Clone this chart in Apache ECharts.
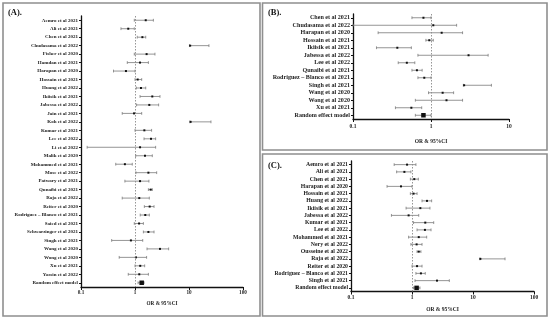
<!DOCTYPE html>
<html>
<head>
<meta charset="utf-8">
<script src="https://cdn.jsdelivr.net/npm/echarts@6/dist/echarts.min.js"></script>
<style>html,body{margin:0;padding:0;background:#fff}#c{width:550px;height:320px}</style>
</head>
<body>
<div id="c"></div>
<script>
// ---- Panel A ----
var namesA = ["Aemro et al 2021","Ali et al 2021","Chen et al 2021","Chudasama et al 2022","Fisher et al 2020","Hamdan et al 2021","Harapan et al 2020","Hossain et al 2021","Huang et al 2022","Ikiisik et al 2021","Jabessa et al 2022","Jain et al 2021","Koh et al 2022","Kumar et al 2021","Lee et al 2022","Li et al 2022","Malik et al 2020","Mohammed et al 2021","Mose et al 2022","Patwary et al 2021","Qunaibi et al 2021","Raja et al 2022","Reiter et al 2020","Rodriguez – Blanco et al 2021","Saied et al 2021","Schwarzinger et al 2021","Singh et al 2021","Wang et al 2020","Wong et al 2020","Xu et al 2021","Yassin et al 2022","Random effect model"];
var orA = [1.58,0.75,1.37,10.5,1.64,1.24,0.68,1.12,1.29,2.09,1.84,0.96,10.7,1.49,1.98,1.24,1.53,0.65,1.77,1.24,1.95,1.20,1.87,1.55,1.19,1.77,0.84,2.9,1.04,1.25,1.20,1.33];
var loA = [0.97,0.55,1.10,10.2,0.97,0.72,0.40,1.0,1.06,1.24,1.07,0.58,10.4,1.0,1.47,0.13,1.03,0.44,1.04,0.65,1.77,0.58,1.49,1.25,0.97,1.43,0.37,1.67,0.51,1.0,0.75,1.14];
var hiA = [2.19,0.97,1.58,23.4,2.34,1.77,1.0,1.33,1.58,2.9,2.74,1.33,25.5,2.03,2.41,2.41,2.09,0.89,2.52,1.81,2.09,1.84,2.25,1.84,1.43,2.25,1.39,4.2,1.64,1.51,1.77,1.47];
// ---- Panel B ----
var namesB = ["Chen et al 2021","Chudasama et al 2022","Harapan et al 2020","Hossain et al 2021","Ikiisik et al 2021","Jabessa et al 2022","Lee et al 2022","Qunaibi et al 2021","Rodriguez – Blanco et al 2021","Singh et al 2021","Wang et al 2020","Wong et al 2020","Xu et al 2021","Random effect model"];
var orB = [0.80,1.07,1.37,0.95,0.37,3.03,0.49,0.66,0.82,2.66,1.41,1.58,0.56,0.80];
var loB = [0.57,0.10,0.21,0.86,0.20,0.68,0.38,0.57,0.68,2.60,0.93,0.63,0.35,0.63];
var hiB = [1.0,2.13,2.54,1.07,0.56,5.4,0.62,0.77,1.0,5.95,1.95,2.54,0.76,1.0];
// ---- Panel C ----
var namesC = ["Aemro et al 2021","Ali et al 2021","Chen et al 2021","Harapan et al 2020","Hossain et al 2021","Huang et al 2022","Ikiisik et al 2021","Jabessa et al 2022","Kumar et al 2021","Lee et al 2022","Mohammed et al 2021","Nery et al 2022","Ousseine et al 2022","Raja et al 2022","Reiter et al 2020","Rodriguez – Blanco et al 2021","Singh et al 2021","Random effect model"];
var orC = [0.83,0.75,1.09,0.66,1.06,1.76,1.37,0.88,1.65,1.63,1.29,1.19,1.29,13.2,1.21,1.40,2.57,1.19];
var loC = [0.51,0.56,0.94,0.39,0.94,1.46,0.80,0.46,1.06,1.21,0.88,0.96,1.21,13.0,1.0,1.16,1.12,1.06];
var hiC = [1.16,0.96,1.27,1.0,1.21,2.10,1.97,1.29,2.27,2.05,1.74,1.46,1.40,33.5,1.46,1.65,4.09,1.35];

var xMaxA = 100, xMaxB = 10, xMaxC = 100;
var axisTitle = "OR & 95%CI";
var FONT = "Liberation Serif";

function rows(or, lo, hi){ return or.map(function(v,i){ return [i, v, lo[i], hi[i]]; }); }

function makeRender(lastIdx){
  return function(params, api){
    var i = api.value(0);
    var p = api.coord([api.value(1), i]);
    var l = api.coord([api.value(2), i]);
    var h = api.coord([api.value(3), i]);
    var isRE = (i === lastIdx);
    var s = isRE ? 4.5 : 2;
    var cap = 1.4;
    var ls = {stroke:'#7a7a7a', lineWidth:0.8};
    return {type:'group', children:[
      {type:'line', shape:{x1:l[0],y1:p[1],x2:h[0],y2:p[1]}, style:ls},
      {type:'line', shape:{x1:l[0],y1:p[1]-cap,x2:l[0],y2:p[1]+cap}, style:ls},
      {type:'line', shape:{x1:h[0],y1:p[1]-cap,x2:h[0],y2:p[1]+cap}, style:ls},
      {type:'rect', shape:{x:p[0]-s/2, y:p[1]-s/2, width:s, height:s}, style:{fill:'#111'}}
    ]};
  };
}

function xAxisDef(idx, max, fs, gap, margin){
  return {
    type:'log', logBase:10, min:0.1, max:max, gridIndex:idx,
    axisLine:{show:true, lineStyle:{color:'#111', width:1.3}},
    axisTick:{show:true, inside:false, length:3, lineStyle:{color:'#111', width:1}},
    minorTick:{show:false},
    splitLine:{show:false},
    axisLabel:{fontFamily:FONT, fontWeight:'bold', fontSize:fs, color:'#222', margin:margin,
      formatter:function(v){ return String(+(+v).toPrecision(3)); }},
    name:axisTitle, nameLocation:'middle', nameGap:gap,
    nameTextStyle:{fontFamily:FONT, fontWeight:'bold', fontSize:fs, color:'#222'}
  };
}
function yAxisDef(idx, names, fs){
  return {
    type:'category', data:names, inverse:true, gridIndex:idx,
    axisLine:{show:true, lineStyle:{color:'#111', width:1.3}},
    axisTick:{show:true, length:2, alignWithLabel:true, lineStyle:{color:'#111', width:1}},
    splitLine:{show:false},
    axisLabel:{fontFamily:FONT, fontWeight:'bold', fontSize:fs, color:'#222', margin:3, interval:0}
  };
}
function seriesDef(idx, or, lo, hi){
  return {
    type:'custom', xAxisIndex:idx, yAxisIndex:idx,
    renderItem:makeRender(or.length-1),
    dimensions:['row','or','lo','hi'],
    encode:{x:[1,2,3], y:0},
    data:rows(or, lo, hi),
    silent:true, clip:false,
    markLine:{silent:true, symbol:'none', animation:false,
      lineStyle:{type:[1.5,1.5], color:'#8a8a8a', width:0.9},
      label:{show:false}, data:[{xAxis:1}]}
  };
}

var chart = echarts.init(document.getElementById('c'), null, {renderer:'canvas'});
chart.setOption({
  animation:false,
  backgroundColor:'#fff',
  grid:[
    {left:81, right:307, top:16, bottom:33},
    {left:353, right:41, top:14, bottom:201},
    {left:351, right:16, top:161, bottom:28.5}
  ],
  xAxis:[ xAxisDef(0, xMaxA, 5.2, 14, 3), xAxisDef(1, xMaxB, 5.5, 20, 4.5), xAxisDef(2, xMaxC, 5.5, 15, 3.5) ],
  yAxis:[ yAxisDef(0, namesA, 5), yAxisDef(1, namesB, 6.1), yAxisDef(2, namesC, 5.8) ],
  series:[ seriesDef(0, orA, loA, hiA), seriesDef(1, orB, loB, hiB), seriesDef(2, orC, loC, hiC) ],
  graphic:[
    {type:'rect', shape:{x:3, y:3, width:257, height:313}, style:{fill:'none', stroke:'#8f8f8f', lineWidth:1.6}, z:-1},
    {type:'rect', shape:{x:262.5, y:3, width:284.5, height:147}, style:{fill:'none', stroke:'#8f8f8f', lineWidth:1.6}, z:-1},
    {type:'rect', shape:{x:262.5, y:154, width:284.5, height:162}, style:{fill:'none', stroke:'#8f8f8f', lineWidth:1.6}, z:-1},
    {type:'text', left:8, top:8, style:{text:'(A).', fontFamily:FONT, fontWeight:'bold', fontSize:8.5, fill:'#111'}},
    {type:'text', left:268, top:8, style:{text:'(B).', fontFamily:FONT, fontWeight:'bold', fontSize:8.5, fill:'#111'}},
    {type:'text', left:268, top:161, style:{text:'(C).', fontFamily:FONT, fontWeight:'bold', fontSize:8.5, fill:'#111'}}
  ]
});
</script>
</body>
</html>
